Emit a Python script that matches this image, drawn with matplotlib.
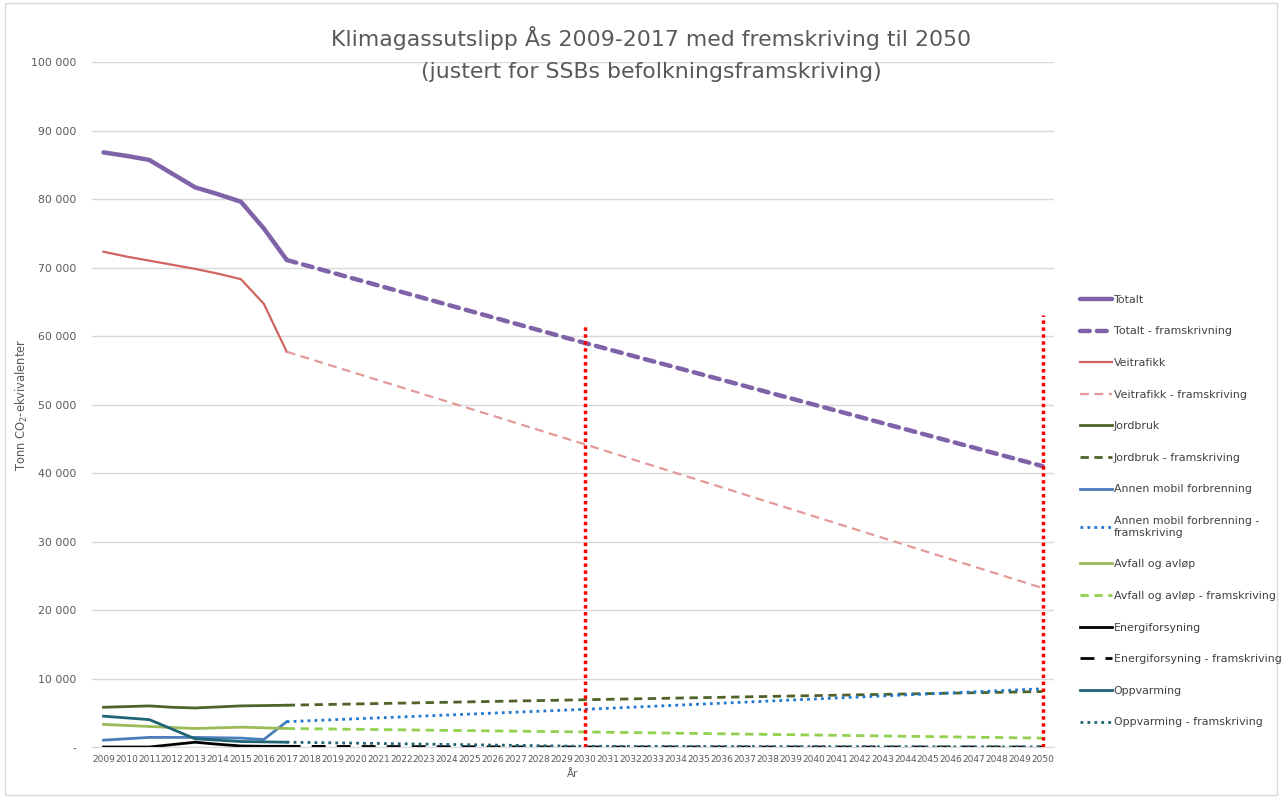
import matplotlib.pyplot as plt
from matplotlib.ticker import FuncFormatter
from matplotlib.patches import Rectangle

# historiske år og fremskrivingspunkter
years = [2009, 2010, 2011, 2012, 2013, 2014, 2015, 2016, 2017]
proj_years = [2017, 2030, 2050]

totalt = [86800, 86300, 85700, 83700, 81700, 80700, 79600, 75700, 71100]
totalt_proj = [71100, 59000, 41000]

veitrafikk = [72300, 71600, 71000, 70400, 69800, 69100, 68300, 64700, 57700]
veitrafikk_proj = [57700, 44200, 23200]

jordbruk = [5800, 5900, 6000, 5800, 5700, 5850, 6000, 6050, 6100]
jordbruk_proj = [6100, 6900, 8100]

annen_mobil = [1000, 1200, 1400, 1400, 1400, 1350, 1300, 1100, 3700]
annen_mobil_proj = [3700, 5500, 8500]

avfall = [3300, 3150, 3000, 2850, 2700, 2800, 2900, 2800, 2700]
avfall_proj = [2700, 2200, 1300]

energi = [0, 0, 0, 350, 700, 400, 150, 100, 100]
energi_proj = [100, 0, 0]

oppvarming = [4500, 4250, 4000, 2600, 1200, 1000, 800, 750, 700]
oppvarming_proj = [700, 100, 0]

markers_2030_2050 = [2030, 2050]
marker_tops = [61500, 63000]

fig = plt.figure(figsize=(12.82, 7.98), dpi=100)
ax = fig.add_axes([0.0718, 0.0639, 0.7504, 0.8584])
fig.patches.append(Rectangle((0.004, 0.004), 0.992, 0.992, transform=fig.transFigure,
                             fill=False, edgecolor='#d9d9d9', lw=1))

ax.plot(years, totalt, color='#7F62A8', lw=3.2, solid_capstyle='round', label='Totalt')
ax.plot(proj_years, totalt_proj, color='#7F62A8', lw=3.2, ls=(0, (2.2, 1.6)),
        dash_capstyle='round', label='Totalt - framskrivning')
ax.plot(years, veitrafikk, color='#D0655F', lw=1.6, label='Veitrafikk')
ax.plot(proj_years, veitrafikk_proj, color='#E39A98', lw=1.6, ls=(0, (4, 2.5)),
        label='Veitrafikk - framskriving')
ax.plot(years, jordbruk, color='#4F6228', lw=2, label='Jordbruk')
ax.plot(proj_years, jordbruk_proj, color='#4F6228', lw=2, ls=(0, (3, 2)),
        label='Jordbruk - framskriving')
ax.plot(years, annen_mobil, color='#4A7EBB', lw=2, label='Annen mobil forbrenning')
ax.plot(proj_years, annen_mobil_proj, color='#1F78D0', lw=2, ls=(0, (1, 1.5)),
        label='Annen mobil forbrenning -\nframskriving')
ax.plot(years, avfall, color='#9BBB59', lw=2, label='Avfall og avløp')
ax.plot(proj_years, avfall_proj, color='#92D050', lw=2, ls=(0, (3, 2)),
        label='Avfall og avløp - framskriving')
ax.plot(years, energi, color='black', lw=2, label='Energiforsyning')
ax.plot(proj_years, energi_proj, color='black', lw=2, ls=(0, (5, 4)),
        label='Energiforsyning - framskriving')
ax.plot(years, oppvarming, color='#1F6474', lw=2, label='Oppvarming')
ax.plot(proj_years, oppvarming_proj, color='#1F6474', lw=2, ls=(0, (1, 1.5)),
        label='Oppvarming - framskriving')

for x, top in zip(markers_2030_2050, marker_tops):
    ax.plot([x, x], [0, top], color='red', lw=2.5, ls=(0, (1, 1)))

ax.set_xlim(2008.5, 2050.5)
ax.set_ylim(0, 100000)
ax.set_xticks(range(2009, 2051))
ax.set_yticks(range(0, 100001, 10000))
ax.yaxis.set_major_formatter(FuncFormatter(
    lambda v, p: '-' if v == 0 else f'{int(v):,}'.replace(',', ' ')))
ax.tick_params(axis='x', labelsize=6.5, colors='#595959', length=0, pad=6)
ax.tick_params(axis='y', labelsize=7.8, colors='#595959', length=0, pad=11)
ax.grid(axis='y', color='#d9d9d9', lw=1)
ax.set_axisbelow(True)
for s in ['top', 'right', 'left']:
    ax.spines[s].set_visible(False)
ax.spines['bottom'].set_color('#d9d9d9')

ax.set_xlabel('År', fontsize=7.5, color='#595959', labelpad=3)
ax.set_ylabel('Tonn CO$_2$-ekvivalenter', fontsize=8.3, color='#595959', labelpad=1)
fig.suptitle('Klimagassutslipp Ås 2009-2017 med fremskriving til 2050\n'
             '(justert for SSBs befolkningsframskriving)',
             x=0.508, y=0.968, fontsize=15.8, color='#595959', linespacing=1.75)

leg = fig.legend(loc='upper left', bbox_to_anchor=(0.835, 0.643), frameon=False,
                 fontsize=7.9, labelcolor='#404040', handlelength=2.9,
                 handletextpad=0.15, labelspacing=1.97)

fig.savefig('out.png', dpi=100)
